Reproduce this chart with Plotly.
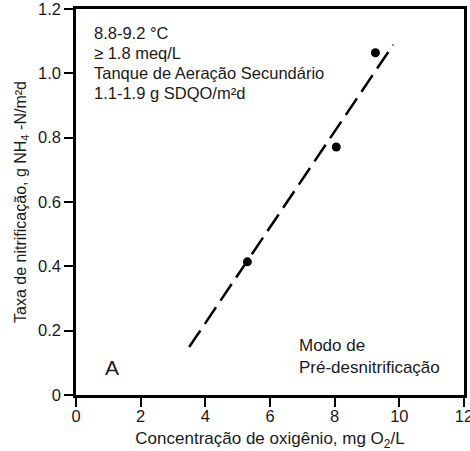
import plotly.graph_objects as go

# Data
oxygen = [5.3, 8.05, 9.26]            # mg O2/L
nitrification = [0.414, 0.771, 1.064]  # g NH4-N/m2d
fit_x = [3.5, 9.81]
fit_y = [0.149, 1.089]

x_ticks = [0, 2, 4, 6, 8, 10, 12]
y_ticks = [0, 0.2, 0.4, 0.6, 0.8, 1.0, 1.2]
y_ticktext = ["0", "0.2", "0.4", "0.6", "0.8", "1.0", "1.2"]

info_lines = ["8.8-9.2 °C", "≥ 1.8 meq/L", "Tanque de Aeração Secundário", "1.1-1.9 g SDQO/m²d"]

FONT = "Liberation Sans, Arial, sans-serif"
TXT = "#1a1a1a"

fig = go.Figure()
fig.add_trace(go.Scatter(x=fit_x, y=fit_y, mode="lines",
                         line=dict(color="black", width=2.5, dash="20px,8px"),
                         showlegend=False, hoverinfo="skip"))
fig.add_trace(go.Scatter(x=oxygen, y=nitrification, mode="markers",
                         marker=dict(color="black", size=9),
                         showlegend=False))

# info block: one annotation per line for exact line spacing
for i, line in enumerate(info_lines):
    fig.add_annotation(x=0.5, y=1.125 - 0.0625 * i, xref="x", yref="y",
                       xanchor="left", yanchor="middle", text=line, showarrow=False,
                       font=dict(family=FONT, size=16.5, color=TXT))
fig.add_annotation(x=0.85, y=0.085, xref="x", yref="y", xanchor="left", yanchor="middle",
                   text="A", showarrow=False, font=dict(family=FONT, size=21, color=TXT))
fig.add_annotation(x=6.85, y=0.12, xref="x", yref="y", xanchor="left", yanchor="middle",
                   text="Modo de<br>Pré-desnitrificação", showarrow=False, align="left",
                   font=dict(family=FONT, size=17, color=TXT))

axis_common = dict(showline=True, linecolor="black", linewidth=2.5, mirror=True,
                   showgrid=False, zeroline=False, ticks="outside", ticklen=9,
                   tickwidth=2, tickcolor="black", automargin=False,
                   ticklabeloverflow="allow",
                   tickfont=dict(family=FONT, size=16.5, color=TXT))

fig.update_xaxes(range=[0, 12], tickvals=x_ticks, ticktext=[str(v) for v in x_ticks],
                 ticklabelstandoff=-5,
                 title=dict(text="Concentração de oxigênio, mg O<sub>2</sub>/L",
                            font=dict(family=FONT, size=17, color=TXT), standoff=13),
                 **axis_common)
fig.update_yaxes(range=[0, 1.2], tickvals=y_ticks, ticktext=y_ticktext,
                 title=dict(text="Taxa de nitrificação, g NH<sub>4</sub> -N/m²d",
                            font=dict(family=FONT, size=16, color=TXT), standoff=8),
                 **axis_common)

fig.update_layout(width=470, height=451, margin=dict(l=76, r=6, t=9, b=56),
                  plot_bgcolor="white", paper_bgcolor="white")

fig.write_html("out.html")
